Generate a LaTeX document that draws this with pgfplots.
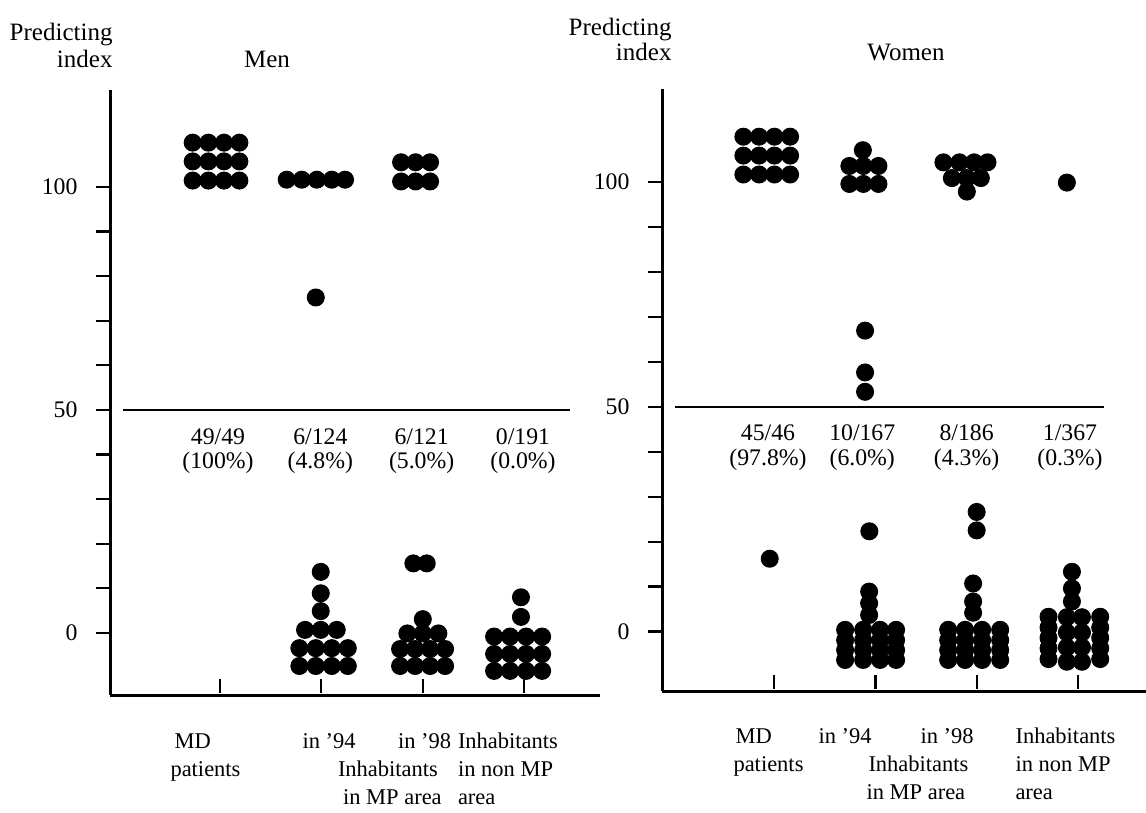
\documentclass[border=0pt]{standalone}
\usepackage{fontspec}
\setmainfont{Liberation Serif}
\usepackage{pgfplots}
\pgfplotsset{compat=1.18}
\newcommand\lbl{\fontsize{9.5}{11.4}\selectfont}
\newcommand\cat{\fontsize{9}{11}\selectfont}

\pgfplotsset{
  dotpanel/.style={
    scale only axis, anchor=south west,
    axis lines*=left,
    axis line style={line width=1.2pt},
    tick style={line width=0.9pt, black},
    tick align=outside, major tick length=5.5pt,
    xtick={1,2,3,4}, xticklabels={},
    xtick style={yshift=6.5pt},
    ytick={0,10,...,100},
    yticklabels={0,,,,,50,,,,,100},
    yticklabel style={font=\lbl, xshift=-4pt},
    /pgf/number format/assume math mode=true,
    clip=false,
  },
  dots/.style={only marks, mark=*, mark size=3.4pt, black},
}

\begin{document}
\begin{tikzpicture}
\useasboundingbox (0,0) rectangle (458.4pt,324.8pt);

% ---------- Men ----------
\begin{axis}[dotpanel, at={(44pt,46.8pt)}, width=196pt, height=242pt,
  xmin=-0.086, xmax=4.75, ymin=-13.9, ymax=121.7]
  % MD patients
  \addplot[dots] coordinates {
    (0.730,109.9) (0.885,109.9) (1.039,109.9) (1.191,109.9)
    (0.730,105.7) (0.885,105.7) (1.039,105.7) (1.191,105.7)
    (0.730,101.4) (0.885,101.4) (1.039,101.4) (1.191,101.4)
  };
  % in '94
  \addplot[dots] coordinates {
    (1.658,101.6) (1.807,101.6) (1.955,101.6) (2.103,101.6) (2.234,101.6)
    (1.945,75.2)
    (1.994,13.7) (1.994,8.9) (1.994,4.9)
    (1.839,0.7) (1.994,0.7) (2.152,0.7)
    (1.783,-3.4) (1.945,-3.4) (2.103,-3.4) (2.261,-3.4)
    (1.783,-7.4) (1.945,-7.4) (2.103,-7.4) (2.261,-7.4)
  };
  % in '98
  \addplot[dots] coordinates {
    (2.787,105.5) (2.930,105.5) (3.073,105.5)
    (2.787,101.2) (2.930,101.2) (3.073,101.2)
    (2.908,15.6) (3.040,15.6)
    (3.001,3.1)
    (2.849,-0.1) (3.001,-0.1) (3.155,-0.1)
    (2.777,-3.6) (2.925,-3.6) (3.073,-3.6) (3.221,-3.6)
    (2.777,-7.4) (2.925,-7.4) (3.073,-7.4) (3.221,-7.4)
  };
  % non MP area
  \addplot[dots] coordinates {
    (3.97,8.0) (3.97,3.6)
    (3.705,-0.8) (3.863,-0.8) (4.021,-0.8) (4.179,-0.8)
    (3.705,-4.7) (3.863,-4.7) (4.021,-4.7) (4.179,-4.7)
    (3.705,-8.5) (3.863,-8.5) (4.021,-8.5) (4.179,-8.5)
  };
  \addplot[black, line width=0.8pt] coordinates {(0.042,50) (4.45,50)};
  \node[font=\lbl] at (axis cs:0.98,43.9) {49/49};
  \node[font=\lbl] at (axis cs:1.99,43.9) {6/124};
  \node[font=\lbl] at (axis cs:2.99,43.9) {6/121};
  \node[font=\lbl] at (axis cs:3.99,43.9) {0/191};
  \node[font=\lbl] at (axis cs:0.98,38.1) {(100\%)};
  \node[font=\lbl] at (axis cs:1.99,38.1) {(4.8\%)};
  \node[font=\lbl] at (axis cs:2.99,38.1) {(5.0\%)};
  \node[font=\lbl] at (axis cs:3.99,38.1) {(0.0\%)};
\end{axis}

% ---------- Women ----------
\begin{axis}[dotpanel, at={(264.8pt,48.4pt)}, width=193.6pt, height=240.8pt,
  xmin=-0.106, xmax=4.67, ymin=-13.2, ymax=120.6]
  % MD patients
  \addplot[dots] coordinates {
    (0.697,110.0) (0.852,110.0) (1.003,110.0) (1.158,110.0)
    (0.697,105.8) (0.852,105.8) (1.003,105.8) (1.158,105.8)
    (0.697,101.6) (0.852,101.6) (1.003,101.6) (1.158,101.6)
    (0.957,16.2)
  };
  % in '94
  \addplot[dots] coordinates {
    (1.876,107.0)
    (1.743,103.5) (1.881,103.5) (2.030,103.5)
    (1.743,99.5) (1.881,99.5) (2.030,99.5)
    (1.898,66.9) (1.898,57.6) (1.898,53.3)
    (1.940,22.3)
    (1.938,8.9) (1.938,6.3) (1.938,3.7)
    (1.701,0.4) (1.879,0.4) (2.046,0.4) (2.204,0.4)
    (1.701,-1.9) (1.879,-1.9) (2.046,-1.9) (2.204,-1.9)
    (1.701,-4.1) (1.879,-4.1) (2.046,-4.1) (2.204,-4.1)
    (1.701,-6.3) (1.879,-6.3) (2.046,-6.3) (2.204,-6.3)
  };
  % in '98
  \addplot[dots] coordinates {
    (2.671,104.3) (2.829,104.3) (2.974,104.3) (3.106,104.3)
    (2.754,100.8) (2.902,100.8) (3.040,100.8)
    (2.902,97.8)
    (2.999,26.6) (2.999,22.5)
    (2.964,10.7) (2.964,6.7) (2.964,4.2)
    (2.718,0.4) (2.885,0.4) (3.053,0.4) (3.231,0.4)
    (2.718,-1.9) (2.885,-1.9) (3.053,-1.9) (3.231,-1.9)
    (2.718,-4.1) (2.885,-4.1) (3.053,-4.1) (3.231,-4.1)
    (2.718,-6.3) (2.885,-6.3) (3.053,-6.3) (3.231,-6.3)
  };
  % non MP area
  \addplot[dots] coordinates {
    (3.889,99.8)
    (3.939,13.3) (3.939,9.6) (3.939,6.7)
    (3.708,3.3) (3.708,0.9) (3.708,-1.4) (3.708,-3.7) (3.708,-6.1)
    (4.218,3.3) (4.218,0.9) (4.218,-1.4) (4.218,-3.7) (4.218,-6.1)
    (3.889,3.2) (3.889,-0.2) (3.889,-3.5) (3.889,-6.7)
    (4.038,3.2) (4.038,-0.2) (4.038,-3.5) (4.038,-6.7)
  };
  \addplot[black, line width=0.8pt] coordinates {(0.023,50) (4.258,50)};
  \node[font=\lbl] at (axis cs:0.94,44.2) {45/46};
  \node[font=\lbl] at (axis cs:1.87,44.2) {10/167};
  \node[font=\lbl] at (axis cs:2.90,44.2) {8/186};
  \node[font=\lbl] at (axis cs:3.92,44.2) {1/367};
  \node[font=\lbl] at (axis cs:0.94,38.2) {(97.8\%)};
  \node[font=\lbl] at (axis cs:1.87,38.2) {(6.0\%)};
  \node[font=\lbl] at (axis cs:2.90,38.2) {(4.3\%)};
  \node[font=\lbl] at (axis cs:3.92,38.2) {(0.3\%)};
\end{axis}

% titles
\begin{scope}[every node/.style={font=\fontsize{10}{12}\selectfont, inner sep=0pt}]
  \node[anchor=base east] at (45.2pt,308.4pt) {Predicting};
  \node[anchor=base east] at (45.2pt,297.6pt) {index};
  \node[anchor=base] at (106.8pt,297.6pt) {Men};
  \node[anchor=base east] at (268.8pt,310.4pt) {Predicting};
  \node[anchor=base east] at (268.8pt,300.4pt) {index};
  \node[anchor=base] at (362.4pt,300.4pt) {Women};
\end{scope}

% category labels
\begin{scope}[every node/.style={font=\cat, inner sep=0pt, anchor=base west}]
  \node at (69.6pt,25.6pt) {MD};
  \node at (68pt,14.4pt) {patients};
  \node at (120.8pt,25.6pt) {in '94};
  \node at (159pt,25.6pt) {in '98};
  \node at (135pt,14.4pt) {Inhabitants};
  \node at (137pt,3.2pt) {in MP area};
  \node at (183pt,25.6pt) {Inhabitants};
  \node at (183pt,14.4pt) {in non MP};
  \node at (183pt,3.2pt) {area};

  \node at (294pt,27.6pt) {MD};
  \node at (293.2pt,16.4pt) {patients};
  \node at (327.2pt,27.6pt) {in '94};
  \node at (368pt,27.6pt) {in '98};
  \node at (347.2pt,16.4pt) {Inhabitants};
  \node at (346.4pt,5.2pt) {in MP area};
  \node at (406pt,27.6pt) {Inhabitants};
  \node at (406pt,16.4pt) {in non MP};
  \node at (406pt,5.2pt) {area};
\end{scope}
\end{tikzpicture}
\end{document}
